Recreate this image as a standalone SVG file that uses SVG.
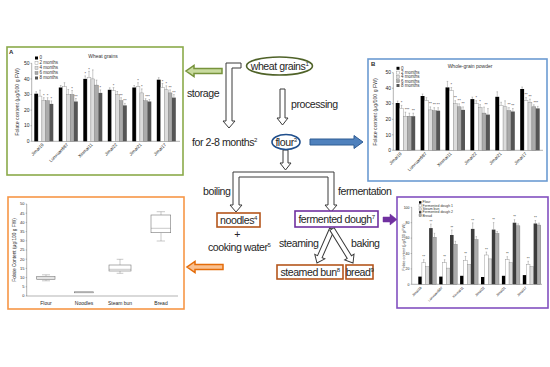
<svg xmlns="http://www.w3.org/2000/svg" width="550" height="367" viewBox="0 0 550 367">
<style>
text{font-family:"Liberation Sans",Arial,sans-serif;fill:#262626}
.lab{font-size:10.6px;letter-spacing:-0.45px}
.sup{font-size:6px}
.ax{stroke:#666;stroke-width:.5;fill:none}
.t5{font-size:5px;fill:#333}
.t45{font-size:4.5px;fill:#333}
.t4{font-size:4px;fill:#333}
.t35{font-size:3.5px;fill:#333}
.k{fill:#000}
.w{fill:#fff;stroke:#888;stroke-width:.4}
.l{fill:#dcdcdc;stroke:#888;stroke-width:.4}
.m{fill:#ababab;stroke:#777;stroke-width:.4}
.d{fill:#555}
.d2{fill:#3c3c3c}
.err{stroke:#777;stroke-width:.4;fill:none}
.hollow{fill:#fff;stroke:#3a3a3a;stroke-width:1}
.bx{fill:#fff;stroke:#777;stroke-width:.6}
</style>

<!-- Panel A: wheat grains -->
<g id="panelA">
<rect x="7" y="47" width="176" height="128" fill="#fff" stroke="#8BAA4A" stroke-width="1.6"/>
<text x="9" y="54" style="font-size:6px;font-weight:bold">A</text>
<text x="103" y="58" text-anchor="middle" class="t5">Wheat grains</text>
<path class="ax" d="M31.7 63.3V141.3H180 M30.5 63.3h1.2 M30.5 78.9h1.2 M30.5 94.5h1.2 M30.5 110.1h1.2 M30.5 125.7h1.2 M30.5 141.3h1.2"/>
<g class="t5" text-anchor="end">
<text x="29.5" y="65">50</text><text x="29.5" y="80.6">40</text><text x="29.5" y="96.2">30</text><text x="29.5" y="111.8">20</text><text x="29.5" y="127.4">10</text><text x="29.5" y="143">0</text>
</g>
<text transform="translate(19,102) rotate(-90)" text-anchor="middle" style="font-size:5.2px;fill:#333">Folate content (μg/100 g FW)</text>
<g>
<rect x="35" y="56.5" width="3" height="3" class="k"/><text x="39.5" y="59.4" class="t45">0</text>
<rect x="35" y="61.5" width="3" height="3" class="w"/><text x="39.5" y="64.4" class="t45">2 months</text>
<rect x="35" y="66.5" width="3" height="3" class="l"/><text x="39.5" y="69.4" class="t45">4 months</text>
<rect x="35" y="71.5" width="3" height="3" class="m"/><text x="39.5" y="74.4" class="t45">6 months</text>
<rect x="35" y="76.5" width="3" height="3" class="d"/><text x="39.5" y="79.4" class="t45">8 months</text>
</g>
<g>
<rect x="34.3" y="93.7" width="3.8" height="47.6" class="k"/><rect x="38.1" y="96.1" width="3.8" height="45.2" class="w"/><rect x="41.9" y="100.7" width="3.8" height="40.6" class="l"/><rect x="45.7" y="100.7" width="3.8" height="40.6" class="m"/><rect x="49.5" y="103.9" width="3.8" height="37.4" class="d"/>
<rect x="58.8" y="87.5" width="3.8" height="53.8" class="k"/><rect x="62.6" y="86.7" width="3.8" height="54.6" class="w"/><rect x="66.4" y="94.5" width="3.8" height="46.8" class="l"/><rect x="70.2" y="94.5" width="3.8" height="46.8" class="m"/><rect x="74" y="101.5" width="3.8" height="39.8" class="d"/>
<rect x="83.3" y="78.9" width="3.8" height="62.4" class="k"/><rect x="87.1" y="77.3" width="3.8" height="64" class="w"/><rect x="90.9" y="78.9" width="3.8" height="62.4" class="l"/><rect x="94.7" y="85.1" width="3.8" height="56.2" class="m"/><rect x="98.5" y="92.9" width="3.8" height="48.4" class="d"/>
<rect x="107.8" y="89.8" width="3.8" height="51.5" class="k"/><rect x="111.6" y="90.6" width="3.8" height="50.7" class="w"/><rect x="115.4" y="94.5" width="3.8" height="46.8" class="l"/><rect x="119.2" y="100.7" width="3.8" height="40.6" class="m"/><rect x="123" y="105.4" width="3.8" height="35.9" class="d"/>
<rect x="132.3" y="87.5" width="3.8" height="53.8" class="k"/><rect x="136.1" y="86.7" width="3.8" height="54.6" class="w"/><rect x="139.9" y="92.9" width="3.8" height="48.4" class="l"/><rect x="143.7" y="100.7" width="3.8" height="40.6" class="m"/><rect x="147.5" y="101.5" width="3.8" height="39.8" class="d"/>
<rect x="156.8" y="79.7" width="3.8" height="61.6" class="k"/><rect x="160.6" y="87.5" width="3.8" height="53.8" class="w"/><rect x="164.4" y="89.8" width="3.8" height="51.5" class="l"/><rect x="168.2" y="92.9" width="3.8" height="48.4" class="m"/><rect x="172" y="97.6" width="3.8" height="43.7" class="d"/>
</g>
<path class="err" d="M36.2 93.7v-2m-.8 0h1.6 M40 96.1v-6m-.8 0h1.6 M43.8 100.7v-3m-.8 0h1.6 M47.6 100.7v-3m-.8 0h1.6 M51.4 103.9v-3m-.8 0h1.6
M60.7 87.5v-2m-.8 0h1.6 M64.5 86.7v-4m-.8 0h1.6 M68.3 94.5v-5m-.8 0h1.6 M72.1 94.5v-4m-.8 0h1.6 M75.9 101.5v-3m-.8 0h1.6
M85.2 78.9v-3m-.8 0h1.6 M89 77.3v-6m-.8 0h1.6 M92.8 78.9v-9m-.8 0h1.6 M96.6 85.1v-5m-.8 0h1.6 M100.4 92.9v-3m-.8 0h1.6
M109.7 89.8v-2m-.8 0h1.6 M113.5 90.6v-3m-.8 0h1.6 M117.3 94.5v-3m-.8 0h1.6 M121.1 100.7v-3m-.8 0h1.6 M124.9 105.4v-2m-.8 0h1.6
M134.2 87.5v-2m-.8 0h1.6 M138 86.7v-4m-.8 0h1.6 M141.8 92.9v-4m-.8 0h1.6 M145.6 100.7v-2m-.8 0h1.6 M149.4 101.5v-2m-.8 0h1.6
M158.7 79.7v-2m-.8 0h1.6 M162.5 87.5v-4m-.8 0h1.6 M166.3 89.8v-4m-.8 0h1.6 M170.1 92.9v-3m-.8 0h1.6 M173.9 97.6v-3m-.8 0h1.6"/>
<g class="t4" text-anchor="middle">
<text x="43.8" y="97">*</text><text x="47.6" y="97">*</text><text x="51.4" y="100">*</text>
<text x="72.1" y="90">*</text><text x="75.9" y="98">**</text>
<text x="85.2" y="75">*</text><text x="89" y="71">*</text><text x="100.4" y="89">*</text>
<text x="113.5" y="87">*</text><text x="121.1" y="97">**</text><text x="124.9" y="102">**</text>
<text x="138" y="82">*</text><text x="141.8" y="88">*</text><text x="147.5" y="98">***</text>
<text x="162.5" y="83">*</text><text x="166.3" y="85">*</text><text x="170.1" y="89">**</text><text x="173.9" y="94">**</text>
</g>
<g class="t45" text-anchor="end">
<text transform="translate(44,145) rotate(-45)">Jimai19</text>
<text transform="translate(68.5,145) rotate(-45)">Lunxuan987</text>
<text transform="translate(93,145) rotate(-45)">Xinmai11</text>
<text transform="translate(117.5,145) rotate(-45)">Jimai22</text>
<text transform="translate(142,145) rotate(-45)">Jimai21</text>
<text transform="translate(166.5,145) rotate(-45)">Jimai17</text>
</g>
</g>

<!-- Panel B: whole-grain powder -->
<g id="panelB">
<rect x="368" y="59" width="179" height="122" fill="#fff" stroke="#6C9BD2" stroke-width="1.6"/>
<text x="371" y="66" style="font-size:6px;font-weight:bold">B</text>
<text x="470" y="68" text-anchor="middle" class="t5">Whole-grain powder</text>
<path class="ax" d="M393.3 72.7V150.3H543 M392.1 72.7h1.2 M392.1 88.2h1.2 M392.1 103.7h1.2 M392.1 119.3h1.2 M392.1 134.8h1.2 M392.1 150.3h1.2"/>
<g class="t5" text-anchor="end">
<text x="391" y="74.4">50</text><text x="391" y="89.9">40</text><text x="391" y="105.4">30</text><text x="391" y="121">20</text><text x="391" y="136.5">10</text><text x="391" y="152">0</text>
</g>
<text transform="translate(377,112) rotate(-90)" text-anchor="middle" style="font-size:5.2px;fill:#333">Folate content (μg/100 g FW)</text>
<g>
<rect x="396.5" y="66.8" width="3" height="3" class="k"/><text x="401" y="69.7" class="t45">0</text>
<rect x="396.5" y="71.1" width="3" height="3" class="w"/><text x="401" y="74" class="t45">2 months</text>
<rect x="396.5" y="75.4" width="3" height="3" class="l"/><text x="401" y="78.3" class="t45">4 months</text>
<rect x="396.5" y="79.7" width="3" height="3" class="m"/><text x="401" y="82.6" class="t45">6 months</text>
<rect x="396.5" y="84" width="3" height="3" class="d"/><text x="401" y="86.9" class="t45">8 months</text>
</g>
<g>
<rect x="395.7" y="103" width="3.9" height="47.3" class="k"/><rect x="399.6" y="108.4" width="3.9" height="41.9" class="w"/><rect x="403.5" y="116.2" width="3.9" height="34.1" class="l"/><rect x="407.4" y="116.2" width="3.9" height="34.1" class="m"/><rect x="411.3" y="116.2" width="3.9" height="34.1" class="d"/>
<rect x="420.6" y="96" width="3.9" height="54.3" class="k"/><rect x="424.5" y="100.6" width="3.9" height="49.7" class="w"/><rect x="428.4" y="109.9" width="3.9" height="40.4" class="l"/><rect x="432.3" y="110.7" width="3.9" height="39.6" class="m"/><rect x="436.2" y="110.7" width="3.9" height="39.6" class="d"/>
<rect x="445.5" y="87.4" width="3.9" height="62.9" class="k"/><rect x="449.4" y="90.5" width="3.9" height="59.8" class="w"/><rect x="453.3" y="103.7" width="3.9" height="46.6" class="l"/><rect x="457.2" y="106.8" width="3.9" height="43.5" class="m"/><rect x="461.1" y="109.9" width="3.9" height="40.4" class="d"/>
<rect x="470.4" y="99.1" width="3.9" height="51.2" class="k"/><rect x="474.3" y="103.7" width="3.9" height="46.6" class="w"/><rect x="478.2" y="107.6" width="3.9" height="42.7" class="l"/><rect x="482.1" y="113.1" width="3.9" height="37.2" class="m"/><rect x="486" y="114.6" width="3.9" height="35.7" class="d"/>
<rect x="495.3" y="96.8" width="3.9" height="53.5" class="k"/><rect x="499.2" y="105.3" width="3.9" height="45" class="w"/><rect x="503.1" y="106.8" width="3.9" height="43.5" class="l"/><rect x="507" y="110.7" width="3.9" height="39.6" class="m"/><rect x="510.9" y="111.5" width="3.9" height="38.8" class="d"/>
<rect x="520.2" y="89" width="3.9" height="61.3" class="k"/><rect x="524.1" y="100.6" width="3.9" height="49.7" class="w"/><rect x="528" y="102.2" width="3.9" height="48.1" class="l"/><rect x="531.9" y="106.8" width="3.9" height="43.5" class="m"/><rect x="535.8" y="108.4" width="3.9" height="41.9" class="d"/>
</g>
<path class="err" d="M397.65 103v-2m-.8 0h1.6 M401.55 108.4v-3m-.8 0h1.6 M405.45 116.2v-4m-.8 0h1.6 M409.35 116.2v-3m-.8 0h1.6 M413.25 116.2v-3m-.8 0h1.6
M422.55 96v-2m-.8 0h1.6 M426.45 100.6v-3m-.8 0h1.6 M430.35 109.9v-3m-.8 0h1.6 M434.25 110.7v-3m-.8 0h1.6 M438.15 110.7v-3m-.8 0h1.6
M447.45 87.4v-6m-.8 0h1.6 M451.35 90.5v-3m-.8 0h1.6 M455.25 103.7v-3m-.8 0h1.6 M459.15 106.8v-3m-.8 0h1.6 M463.05 109.9v-3m-.8 0h1.6
M472.35 99.1v-2m-.8 0h1.6 M476.25 103.7v-3m-.8 0h1.6 M480.15 107.6v-3m-.8 0h1.6 M484.05 113.1v-6m-.8 0h1.6 M487.95 114.6v-6m-.8 0h1.6
M497.25 96.8v-5m-.8 0h1.6 M501.15 105.3v-3m-.8 0h1.6 M505.05 106.8v-6m-.8 0h1.6 M508.95 110.7v-3m-.8 0h1.6 M512.85 111.5v-3m-.8 0h1.6
M522.15 89v-2m-.8 0h1.6 M526.05 100.6v-3m-.8 0h1.6 M529.95 102.2v-3m-.8 0h1.6 M533.85 106.8v-2m-.8 0h1.6 M537.75 108.4v-2m-.8 0h1.6"/>
<g class="t4" text-anchor="middle">
<text x="401.55" y="104">*</text><text x="407" y="111">***</text><text x="413.25" y="112">**</text>
<text x="430.35" y="105">**</text><text x="434.25" y="106">**</text><text x="438.15" y="106">**</text>
<text x="451.35" y="86">*</text><text x="455.25" y="99">**</text><text x="459.15" y="102">**</text><text x="463.05" y="105">**</text>
<text x="476.25" y="99">*</text><text x="480.15" y="103">*</text><text x="486" y="106">**</text>
<text x="508.95" y="106">**</text><text x="512.85" y="107">**</text>
<text x="526.05" y="96">**</text><text x="529.95" y="98">**</text><text x="535.8" y="104">***</text>
</g>
<g class="t45" text-anchor="end">
<text transform="translate(402,154) rotate(-45)">Jimai19</text>
<text transform="translate(427,154) rotate(-45)">Lunxuan987</text>
<text transform="translate(452,154) rotate(-45)">Xinmai11</text>
<text transform="translate(477,154) rotate(-45)">Jimai22</text>
<text transform="translate(502,154) rotate(-45)">Jimai21</text>
<text transform="translate(527,154) rotate(-45)">Jimai17</text>
</g>
</g>

<!-- Panel bottom-left: box plot -->
<g id="panelBoxplot">
<rect x="8" y="197" width="176" height="112" fill="#fff" stroke="#F79646" stroke-width="1.6"/>
<path class="ax" d="M26.7 204V296H178 M25.7 204h1 M25.7 213.2h1 M25.7 222.4h1 M25.7 231.6h1 M25.7 240.8h1 M25.7 250h1 M25.7 259.2h1 M25.7 268.4h1 M25.7 277.6h1 M25.7 286.8h1 M25.7 296h1"/>
<g class="t4" text-anchor="end">
<text x="24.5" y="205.4">50</text><text x="24.5" y="214.6">45</text><text x="24.5" y="223.8">40</text><text x="24.5" y="233">35</text><text x="24.5" y="242.2">30</text><text x="24.5" y="251.4">25</text><text x="24.5" y="260.6">20</text><text x="24.5" y="269.8">15</text><text x="24.5" y="279">10</text><text x="24.5" y="288.2">5</text><text x="24.5" y="297.4">0</text>
</g>
<text transform="translate(16,250) rotate(-90)" text-anchor="middle" style="font-size:4.8px;fill:#333">Folate Content (μg/100 g FW)</text>
<path class="err" d="M46 276v-1.2 M46 279.6v1.2 M42 274.8h8 M42 280.8h8"/>
<rect x="36.7" y="276.5" width="18.3" height="3.1" class="bx"/>
<path class="err" d="M36.7 278h18.3"/>
<rect x="74.3" y="291.8" width="19" height="1" class="bx"/>
<path class="err" d="M120 265v-5.7 M120 271v2.3 M116.7 259.3h6.6 M116.7 273.3h6.6"/>
<rect x="109" y="265" width="22" height="6" class="bx"/>
<path class="err" d="M109 269.3h22"/>
<path class="err" d="M161 215v-3.3 M161 232.7v8.3 M156.7 211.7h8.3 M156.7 241h8.3"/>
<rect x="151" y="215" width="19.7" height="17.7" class="bx"/>
<path class="err" d="M151 228.3h19.7"/>
<g class="t5" text-anchor="middle">
<text x="46" y="305">Flour</text><text x="84" y="305">Noodles</text><text x="120" y="305">Steam bun</text><text x="161" y="305">Bread</text>
</g>
</g>

<!-- Panel bottom-right: processing products -->
<g id="panelProducts">
<rect x="397" y="197" width="151" height="111" fill="#fff" stroke="#8250C0" stroke-width="1.6"/>
<g>
<rect x="419" y="201.2" width="2.4" height="2.4" class="k"/><text x="422.5" y="203.4" class="t35">Flour</text>
<rect x="419" y="204.5" width="2.4" height="2.4" class="w"/><text x="422.5" y="206.7" class="t35">Fermented dough 1</text>
<rect x="419" y="207.8" width="2.4" height="2.4" class="l"/><text x="422.5" y="210" class="t35">Steam bun</text>
<rect x="419" y="211.1" width="2.4" height="2.4" class="d2"/><text x="422.5" y="213.3" class="t35">Fermented dough 2</text>
<rect x="419" y="214.4" width="2.4" height="2.4" class="m"/><text x="422.5" y="216.6" class="t35">Bread</text>
</g>
<path class="ax" d="M411.7 207.3V284.3H542 M410.7 207.3h1 M410.7 222.7h1 M410.7 238.1h1 M410.7 253.5h1 M410.7 268.9h1 M410.7 284.3h1"/>
<g class="t35" text-anchor="end">
<text x="409.5" y="208.5">100</text><text x="409.5" y="223.9">80</text><text x="409.5" y="239.3">60</text><text x="409.5" y="254.7">40</text><text x="409.5" y="270.1">20</text><text x="409.5" y="285.5">0</text>
</g>
<text transform="translate(404.5,247) rotate(-90)" text-anchor="middle" style="font-size:3.6px;fill:#333">Folate content (μg/100 g FW)</text>
<g>
<rect x="418.3" y="276.6" width="3.6" height="7.7" class="k"/><rect x="421.9" y="262.7" width="3.6" height="21.6" class="w"/><rect x="425.5" y="266.6" width="3.6" height="17.7" class="l"/><rect x="429.1" y="228.1" width="3.6" height="56.2" class="d2"/><rect x="432.7" y="237.3" width="3.6" height="47" class="m"/>
<rect x="439.2" y="276.6" width="3.6" height="7.7" class="k"/><rect x="442.8" y="262.7" width="3.6" height="21.6" class="w"/><rect x="446.4" y="268.1" width="3.6" height="16.2" class="l"/><rect x="450" y="235" width="3.6" height="49.3" class="d2"/><rect x="453.6" y="244.3" width="3.6" height="40" class="m"/>
<rect x="460.1" y="275.8" width="3.6" height="8.5" class="k"/><rect x="463.7" y="260.4" width="3.6" height="23.9" class="w"/><rect x="467.3" y="264.3" width="3.6" height="20" class="l"/><rect x="470.9" y="228.9" width="3.6" height="55.4" class="d2"/><rect x="474.5" y="239.6" width="3.6" height="44.7" class="m"/>
<rect x="481" y="277" width="3.6" height="7.3" class="k"/><rect x="484.6" y="255" width="3.6" height="29.3" class="w"/><rect x="488.2" y="258.9" width="3.6" height="25.4" class="l"/><rect x="491.8" y="229.6" width="3.6" height="54.7" class="d2"/><rect x="495.4" y="233.5" width="3.6" height="50.8" class="m"/>
<rect x="501.9" y="275.8" width="3.6" height="8.5" class="k"/><rect x="505.5" y="259.7" width="3.6" height="24.6" class="w"/><rect x="509.1" y="262.7" width="3.6" height="21.6" class="l"/><rect x="512.7" y="222.7" width="3.6" height="61.6" class="d2"/><rect x="516.3" y="225.8" width="3.6" height="58.5" class="m"/>
<rect x="522.8" y="275.1" width="3.6" height="9.2" class="k"/><rect x="526.4" y="264.3" width="3.6" height="20" class="w"/><rect x="530" y="266.6" width="3.6" height="17.7" class="l"/><rect x="533.6" y="223.5" width="3.6" height="60.8" class="d2"/><rect x="537.2" y="225" width="3.6" height="59.3" class="m"/>
</g>
<path class="err" d="M423.7 262.7v-3m-.7 0h1.4 M430.9 228.1v-4m-.7 0h1.4 M434.5 237.3v-4m-.7 0h1.4
M444.6 262.7v-3m-.7 0h1.4 M451.8 235v-5m-.7 0h1.4 M455.4 244.3v-3m-.7 0h1.4
M465.5 260.4v-4m-.7 0h1.4 M472.7 228.9v-6m-.7 0h1.4 M476.3 239.6v-3m-.7 0h1.4
M486.4 255v-3m-.7 0h1.4 M493.6 229.6v-7m-.7 0h1.4 M497.2 233.5v-2m-.7 0h1.4
M507.3 259.7v-3m-.7 0h1.4 M514.5 222.7v-3m-.7 0h1.4 M518.1 225.8v-2m-.7 0h1.4
M528.2 264.3v-3m-.7 0h1.4 M535.4 223.5v-3m-.7 0h1.4 M539 225v-2m-.7 0h1.4"/>
<g class="t35" text-anchor="middle">
<text x="423.7" y="258">**</text><text x="430.9" y="223">**</text>
<text x="444.6" y="258">**</text><text x="451.8" y="229">**</text>
<text x="465.5" y="255">**</text><text x="472.7" y="222">**</text>
<text x="486.4" y="251">**</text><text x="493.6" y="221">**</text>
<text x="507.3" y="255">**</text><text x="514.5" y="218">**</text>
<text x="528.2" y="260">**</text><text x="535.4" y="219">**</text>
</g>
<g class="t35" text-anchor="end">
<text transform="translate(422,288) rotate(-45)">Jimai19</text>
<text transform="translate(443,288) rotate(-45)">Lunxuan987</text>
<text transform="translate(464,288) rotate(-45)">Xinmai11</text>
<text transform="translate(485,288) rotate(-45)">Jimai22</text>
<text transform="translate(506,288) rotate(-45)">Jimai21</text>
<text transform="translate(527,288) rotate(-45)">Jimai17</text>
</g>
</g>

<!-- Connectors -->
<g id="connectors">
<polygon class="hollow" points="241,63 226,63 226,121 223,121 229,128 235,121 232,121 232,68 241,68"/>
<polygon class="hollow" points="280,89 285,89 285,118 288,118 282.5,125 277,118 280,118"/>
<polygon class="hollow" points="283,150 288,150 288,163 291,163 285.5,170 280,163 283,163"/>
<polygon class="hollow" points="233,172 334,172 334,205 337,205 331,212 325,205 328,205 328,177 239,177 239,205 242,205 236,212 230,205 233,205"/>
<polygon class="hollow" transform="translate(332,229) rotate(113.8)" points="0,-2.5 30.2,-2.5 30.2,-5.5 37.2,0 30.2,5.5 30.2,2.5 0,2.5"/>
<polygon class="hollow" transform="translate(332,229) rotate(58.3)" points="0,-2.5 33,-2.5 33,-5.5 40,0 33,5.5 33,2.5 0,2.5"/>
<polygon points="222,68.5 194,68.5 194,65.5 186,71 194,76.5 194,73.5 222,73.5" fill="#C9DB9F" stroke="#77933C" stroke-width="1.5"/>
<polygon points="310,139 354,139 354,135.5 363,142 354,148.5 354,145 310,145" fill="#4F81BD" stroke="#2F5C93" stroke-width="1"/>
<polygon points="223,264.5 195,264.5 195,261.5 187,267 195,272.5 195,269.5 223,269.5" fill="#FAC090" stroke="#E46C0A" stroke-width="1.5"/>
<polygon points="383,217 390,217 390,214 397,219.5 390,225 390,222 383,222" fill="#7030A0" stroke="#7030A0" stroke-width=".5"/>
<text x="187" y="97" class="lab">storage</text>
<text x="291" y="108" class="lab">processing</text>
<text x="192" y="146" class="lab">for 2-8 months<tspan class="sup" dy="-4">2</tspan></text>
<text x="203" y="195" class="lab">boiling</text>
<text x="338" y="195" class="lab">fermentation</text>
<text x="279" y="247" class="lab">steaming</text>
<text x="351" y="247" class="lab">baking</text>
</g>

<!-- Nodes -->
<g id="wheatGrains">
<ellipse cx="279.5" cy="66" rx="33" ry="9" fill="#fff" stroke="#4F6228" stroke-width="1.6"/>
<text x="279.5" y="70" text-anchor="middle" class="lab">wheat grains<tspan class="sup" dy="-4">1</tspan></text>
</g>
<g id="flour">
<ellipse cx="286" cy="142" rx="14" ry="7.5" fill="#fff" stroke="#1F4E8C" stroke-width="1.6"/>
<text x="286" y="146" text-anchor="middle" class="lab">flour<tspan class="sup" dy="-4">3</tspan></text>
</g>
<g id="noodles">
<rect x="217" y="213" width="43" height="14" fill="#fff" stroke="#B5561C" stroke-width="1.6"/>
<text x="238.5" y="224" text-anchor="middle" class="lab">noodles<tspan class="sup" dy="-4">4</tspan></text>
</g>
<g id="cookingWater">
<text x="237" y="238" text-anchor="middle" class="lab">+</text>
<text x="208" y="251" class="lab">cooking water<tspan class="sup" dy="-4">5</tspan></text>
</g>
<g id="fermentedDough">
<rect x="295" y="211" width="83" height="16" fill="#fff" stroke="#7030A0" stroke-width="1.6"/>
<text x="336.5" y="223" text-anchor="middle" class="lab">fermented dough<tspan class="sup" dy="-4">7</tspan></text>
</g>
<g id="steamedBun">
<rect x="277" y="265" width="66" height="14" fill="#fff" stroke="#B5561C" stroke-width="1.6"/>
<text x="310" y="276" text-anchor="middle" class="lab">steamed bun<tspan class="sup" dy="-4">8</tspan></text>
</g>
<g id="bread">
<rect x="346" y="265" width="27" height="14" fill="#fff" stroke="#B5561C" stroke-width="1.6"/>
<text x="359.5" y="276" text-anchor="middle" class="lab">bread<tspan class="sup" dy="-4">9</tspan></text>
</g>
</svg>
